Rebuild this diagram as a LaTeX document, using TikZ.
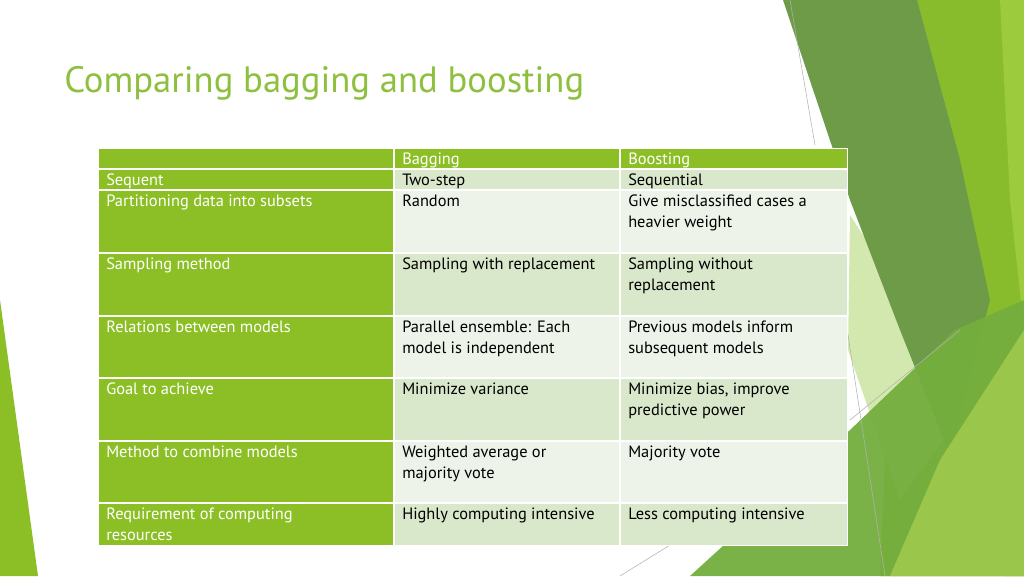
\documentclass[tikz,border=0pt]{standalone}
\usepackage{fontspec}
\setmainfont{PT Sans}
\definecolor{tg}{HTML}{8CBF26}
\definecolor{titleg}{HTML}{8DC03F}
\definecolor{rowd}{HTML}{D9E7CB}
\definecolor{rowl}{HTML}{EDF3E8}
\definecolor{dkg}{HTML}{6D9B47}
\definecolor{brg}{HTML}{88BC2C}
\definecolor{lbg}{HTML}{9DCB3E}
\definecolor{mdg}{HTML}{74AE3E}
\definecolor{pale}{HTML}{D3E8AE}
\begin{document}
\begin{tikzpicture}[x=0.75pt,y=-0.75pt,
  cell/.style={anchor=north west,inner sep=0pt,font=\fontsize{12.3}{15.6}\selectfont,align=left},
  hd/.style={cell,text=white},
  sep/.style={draw=white,line width=1pt}]
\useasboundingbox (0,0) rectangle (1024,576);
\fill[white] (0,0) rectangle (1024,576);
% decoration
\fill[brg] (905,0) -- (1024,0) -- (1024,576) -- (880,576) -- cycle;
\fill[lbg] (1000,0) -- (1024,0) -- (1024,576) -- (1005,576) -- (1024,330) -- (1010,200) -- cycle;
\fill[pale] (850,215) -- (905,300) -- (950,430) -- (900,500) -- (848,350) -- cycle;
\fill[dkg] (783,0) -- (917,0) -- (960,160) -- (990,300) -- (950,455) -- (900,330) -- (850,200) -- cycle;
\fill[mdg,opacity=0.95] (690,576) -- (850,430) -- (955,330) -- (1024,300) -- (1024,576) -- cycle;
\fill[brg!85!white] (890,576) -- (940,460) -- (1024,330) -- (1024,576) -- cycle;
\fill[tg] (0,300) -- (38,576) -- (0,576) -- cycle;
\draw[gray!60,line width=0.4pt] (790,0) -- (815,145) (848,335) -- (885,576) (850,420) -- (960,330) (620,576) -- (670,545);
% title
\node[anchor=base west,inner sep=0pt,text=titleg,font=\fontsize{27.5}{30}\selectfont] (title) at (64,92) {Comparing bagging and boosting};
% table backgrounds
\fill[tg] (98,148) rectangle (847,169);
\fill[tg] (98,169) rectangle (394,545);
\fill[rowd] (394,169) rectangle (847,190);
\fill[rowl] (394,190) rectangle (847,253);
\fill[rowd] (394,253) rectangle (847,316);
\fill[rowl] (394,316) rectangle (847,378);
\fill[rowd] (394,378) rectangle (847,441);
\fill[rowl] (394,441) rectangle (847,503);
\fill[rowd] (394,503) rectangle (847,545);
\foreach \y in {169,190,253,316,378,441,503} \draw[sep] (98,\y) -- (847,\y);
\draw[sep] (394,148) -- (394,545) (620,148) -- (620,545);
\draw[white,line width=0.6pt] (98,148) rectangle (847,545);
% header
\node[hd] (hb) at (402,153) {Bagging};
\node[hd] (hs) at (628,153) {Boosting};
% col 1
\node[hd] (r1) at (106,174) {Sequent};
\node[hd] (r2) at (106,195) {Partitioning data into subsets};
\node[hd] (r3) at (106,258) {Sampling method};
\node[hd] (r4) at (106,321) {Relations between models};
\node[hd] (r5) at (106,383) {Goal to achieve};
\node[hd] (r6) at (106,446) {Method to combine models};
\node[hd] (r7) at (106,508) {Requirement of computing\\resources};
% col 2
\node[cell] (b1) at (402,174) {Two-step};
\node[cell] (b2) at (402,195) {Random};
\node[cell] (b3) at (402,258) {Sampling with replacement};
\node[cell] (b4) at (402,321) {Parallel ensemble: Each\\model is independent};
\node[cell] (b5) at (402,383) {Minimize variance};
\node[cell] (b6) at (402,446) {Weighted average or\\majority vote};
\node[cell] (b7) at (402,508) {Highly computing intensive};
% col 3
\node[cell] (c1) at (628,174) {Sequential};
\node[cell] (c2) at (628,195) {Give misclassified cases a\\heavier weight};
\node[cell] (c3) at (628,258) {Sampling without\\replacement};
\node[cell] (c4) at (628,321) {Previous models inform\\subsequent models};
\node[cell] (c5) at (628,383) {Minimize bias, improve\\predictive power};
\node[cell] (c6) at (628,446) {Majority vote};
\node[cell] (c7) at (628,508) {Less computing intensive};
\end{tikzpicture}
\end{document}
